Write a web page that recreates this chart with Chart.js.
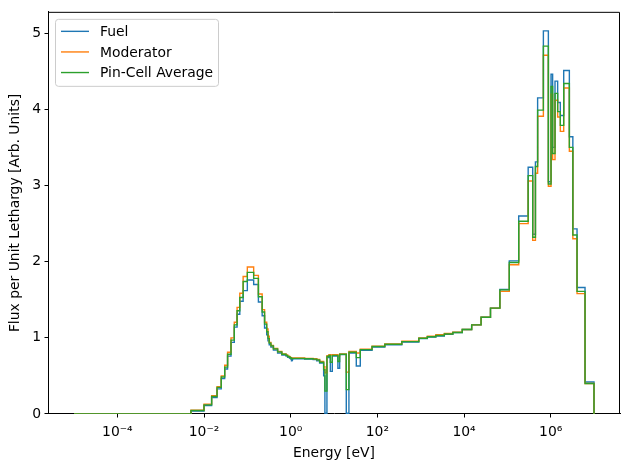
<!DOCTYPE html>
<html>
<head>
<meta charset="utf-8">
<script src="https://cdn.jsdelivr.net/npm/chart.js@4.4.1/dist/chart.umd.min.js"></script>
<style>
  html, body { margin: 0; padding: 0; background: #fff; }
  #wrap { width: 630px; height: 470px; }
</style>
</head>
<body>
<div id="wrap"><canvas id="flux-chart" width="630" height="470"></canvas></div>
<script>
// energy group boundaries [eV]
const groupEdges = [
    1e-5, 5e-3, 1e-2, 1.5e-2, 2e-2, 2.5e-2, 3e-2, 3.5e-2, 4.2e-2, 5e-2,
    5.8e-2, 6.7e-2, 8e-2, 0.1, 0.14, 0.18, 0.22, 0.25, 0.28, 0.3,
    0.32, 0.35, 0.4, 0.5, 0.625, 0.78, 0.85, 0.91, 0.95, 0.972,
    0.996, 1.02, 1.045, 1.071, 1.097, 1.123, 1.15, 1.3, 1.5, 1.855,
    2.1, 2.6, 3.3, 4.0, 4.66, 5.77, 6.17, 6.87, 7.64, 8.23,
    9.15, 11.3, 12.3, 13.5, 19.2, 22.1, 32.7, 40.4, 75.5, 148.73,
    367.26, 906.9, 1425.1, 2239.45, 3519.1, 5530, 9118, 15030, 24780, 40850,
    67340, 111000, 183000, 302500, 385000, 445000, 500000, 679000, 885000, 1.02e6,
    1.11e6, 1.26e6, 1.45e6, 1.67e6, 2.0e6, 2.7e6, 3.25e6, 4.06e6, 6.21e6, 1e7
];

// flux per unit lethargy, one value per group
const fuelFlux = [
    0, 0.04, 0.11, 0.215, 0.33, 0.465, 0.59, 0.76, 0.94, 1.14,
    1.31, 1.48, 1.62, 1.76, 1.70, 1.47, 1.29, 1.13, 1.04, 0.96,
    0.91, 0.88, 0.84, 0.80, 0.775, 0.76, 0.745, 0.74, 0.735, 0.73,
    0.725, 0.72, 0.70, 0.705, 0.72, 0.725, 0.725, 0.725, 0.725, 0.725,
    0.72, 0.72, 0.715, 0.70, 0.67, 0.50, 0.01, 0.74, 0.76, 0.56,
    0.76, 0.76, 0.60, 0.78, 0.01, 0.80, 0.63, 0.835, 0.88, 0.91,
    0.945, 0.99, 1.01, 1.025, 1.045, 1.07, 1.11, 1.17, 1.27, 1.39,
    1.635, 2.01, 2.60, 3.24, 2.36, 3.31, 4.15, 5.03, 3.05, 4.46,
    3.50, 4.37, 4.09, 3.92, 4.51, 3.64, 2.43, 1.66, 0.42
];
const moderatorFlux = [
    0, 0.05, 0.13, 0.24, 0.36, 0.50, 0.64, 0.81, 1.00, 1.205,
    1.40, 1.585, 1.805, 1.93, 1.82, 1.575, 1.37, 1.205, 1.115, 1.02,
    0.94, 0.90, 0.86, 0.82, 0.79, 0.775, 0.76, 0.755, 0.75, 0.745,
    0.74, 0.74, 0.735, 0.735, 0.735, 0.735, 0.735, 0.735, 0.735, 0.735,
    0.73, 0.73, 0.725, 0.715, 0.69, 0.62, 0.54, 0.765, 0.78, 0.775,
    0.78, 0.78, 0.76, 0.79, 0.55, 0.82, 0.80, 0.85, 0.89, 0.92,
    0.955, 1.00, 1.02, 1.04, 1.057, 1.075, 1.11, 1.17, 1.27, 1.39,
    1.61, 1.96, 2.50, 3.06, 2.28, 3.16, 3.91, 4.71, 2.99, 4.20,
    3.34, 4.12, 3.90, 3.71, 4.28, 3.45, 2.30, 1.58, 0.40
];
const averageFlux = [
    0, 0.045, 0.12, 0.23, 0.35, 0.485, 0.615, 0.785, 0.97, 1.17,
    1.355, 1.53, 1.74, 1.86, 1.78, 1.54, 1.34, 1.18, 1.08, 0.99,
    0.93, 0.895, 0.855, 0.815, 0.785, 0.77, 0.755, 0.75, 0.745, 0.74,
    0.735, 0.735, 0.725, 0.725, 0.73, 0.73, 0.73, 0.73, 0.73, 0.73,
    0.725, 0.725, 0.72, 0.71, 0.68, 0.58, 0.30, 0.755, 0.77, 0.68,
    0.77, 0.77, 0.69, 0.785, 0.32, 0.81, 0.74, 0.845, 0.886, 0.916,
    0.95, 0.995, 1.015, 1.03, 1.05, 1.07, 1.11, 1.17, 1.27, 1.39,
    1.63, 1.99, 2.53, 3.13, 2.32, 3.25, 3.99, 4.83, 3.02, 4.30,
    3.42, 4.21, 3.97, 3.79, 4.34, 3.50, 2.35, 1.61, 0.40
];

const seriesNames = ['Fuel', 'Moderator', 'Pin-Cell Average'];
const xTickValues = [1e-4, 1e-2, 1e0, 1e2, 1e4, 1e6];
const xTickLabels = ['10\u207B\u2074', '10\u207B\u00B2', '10\u2070', '10\u00B2', '10\u2074', '10\u2076'];
const yTickValues = [0, 1, 2, 3, 4, 5];

const FONT = 'DejaVu Sans';

// points at every edge, each value held until the next edge, dropping to 0 at the end
function stairs(values) {
    return groupEdges.map((e, i) => ({ x: e, y: i < values.length ? values[i] : 0 }));
}

// top/right spines and a matplotlib-like legend inside the axes
const framePlugin = {
    id: 'frameAndLegend',
    beforeDatasetsDraw(chart) {
        const { ctx, chartArea: a } = chart;
        ctx.save();
        ctx.strokeStyle = '#000';
        ctx.lineWidth = 1;
        ctx.beginPath();
        ctx.moveTo(a.left, a.top + 0.5);
        ctx.lineTo(a.right - 0.5, a.top + 0.5);
        ctx.lineTo(a.right - 0.5, a.bottom);
        ctx.stroke();
        ctx.restore();
    },
    afterDatasetsDraw(chart) {
        const { ctx, chartArea: a } = chart;
        ctx.save();
        const bx = a.left + 7.5, by = a.top + 7.5, bw = 163, bh = 67, r = 3;
        ctx.beginPath();
        ctx.moveTo(bx + r, by);
        ctx.arcTo(bx + bw, by, bx + bw, by + bh, r);
        ctx.arcTo(bx + bw, by + bh, bx, by + bh, r);
        ctx.arcTo(bx, by + bh, bx, by, r);
        ctx.arcTo(bx, by, bx + bw, by, r);
        ctx.closePath();
        ctx.fillStyle = 'rgba(255,255,255,0.8)';
        ctx.fill();
        ctx.lineWidth = 1;
        ctx.strokeStyle = '#cccccc';
        ctx.stroke();

        ctx.font = '13.9px "' + FONT + '"';
        ctx.textBaseline = 'middle';
        ctx.textAlign = 'left';
        chart.data.datasets.forEach((ds, i) => {
            const y = a.top + 19.5 + i * 20.6;
            ctx.strokeStyle = ds.borderColor;
            ctx.lineWidth = ds.borderWidth;
            ctx.beginPath();
            ctx.moveTo(a.left + 13, y);
            ctx.lineTo(a.left + 41, y);
            ctx.stroke();
            ctx.fillStyle = '#000';
            ctx.fillText(ds.label, a.left + 52, y + 1);
        });
        ctx.restore();
    }
};

Chart.defaults.color = '#000';
Chart.defaults.font.family = FONT;
Chart.defaults.font.size = 13.9;

const ctx = document.getElementById('flux-chart').getContext('2d');
new Chart(ctx, {
    type: 'line',
    data: {
        datasets: [
            { label: seriesNames[0], data: stairs(fuelFlux), borderColor: '#1f77b4', order: 2 },
            { label: seriesNames[1], data: stairs(moderatorFlux), borderColor: '#ff7f0e', order: 1 },
            { label: seriesNames[2], data: stairs(averageFlux), borderColor: '#2ca02c', order: 0 }
        ].map(ds => Object.assign(ds, {
            stepped: 'before',
            borderWidth: 1.4,
            pointRadius: 0,
            fill: false,
            tension: 0
        }))
    },
    options: {
        responsive: false,
        devicePixelRatio: 1,
        animation: false,
        layout: { padding: { left: 0, right: 10, top: 10, bottom: 0 } },
        plugins: {
            legend: { display: false },
            tooltip: { enabled: false }
        },
        scales: {
            x: {
                type: 'logarithmic',
                min: Math.pow(10, -5.6),
                max: Math.pow(10, 7.6),
                afterBuildTicks: s => { s.ticks = xTickValues.map(v => ({ value: v })); },
                afterFit: s => { s.height = 56; },
                ticks: {
                    autoSkip: false,
                    maxRotation: 0,
                    padding: 7,
                    callback: (v) => {
                        const i = xTickValues.findIndex(t => Math.abs(Math.log10(t) - Math.log10(v)) < 1e-6);
                        return i >= 0 ? xTickLabels[i] : '';
                    }
                },
                grid: { display: true, drawOnChartArea: false, drawTicks: true, tickLength: 3.5, color: '#000' },
                border: { display: true, color: '#000' },
                title: { display: true, text: 'Energy [eV]', padding: { top: 0, bottom: 8 } }
            },
            y: {
                type: 'linear',
                min: 0,
                max: 5.28,
                afterBuildTicks: s => { s.ticks = yTickValues.map(v => ({ value: v })); },
                afterFit: s => { s.width = 48; },
                ticks: { padding: 3.5 },
                grid: { display: true, drawOnChartArea: false, drawTicks: true, tickLength: 3.5, color: '#000' },
                border: { display: true, color: '#000' },
                title: { display: true, text: 'Flux per Unit Lethargy [Arb. Units]', padding: { top: 7, bottom: 0 } }
            }
        }
    },
    plugins: [framePlugin]
});
</script>
</body>
</html>
